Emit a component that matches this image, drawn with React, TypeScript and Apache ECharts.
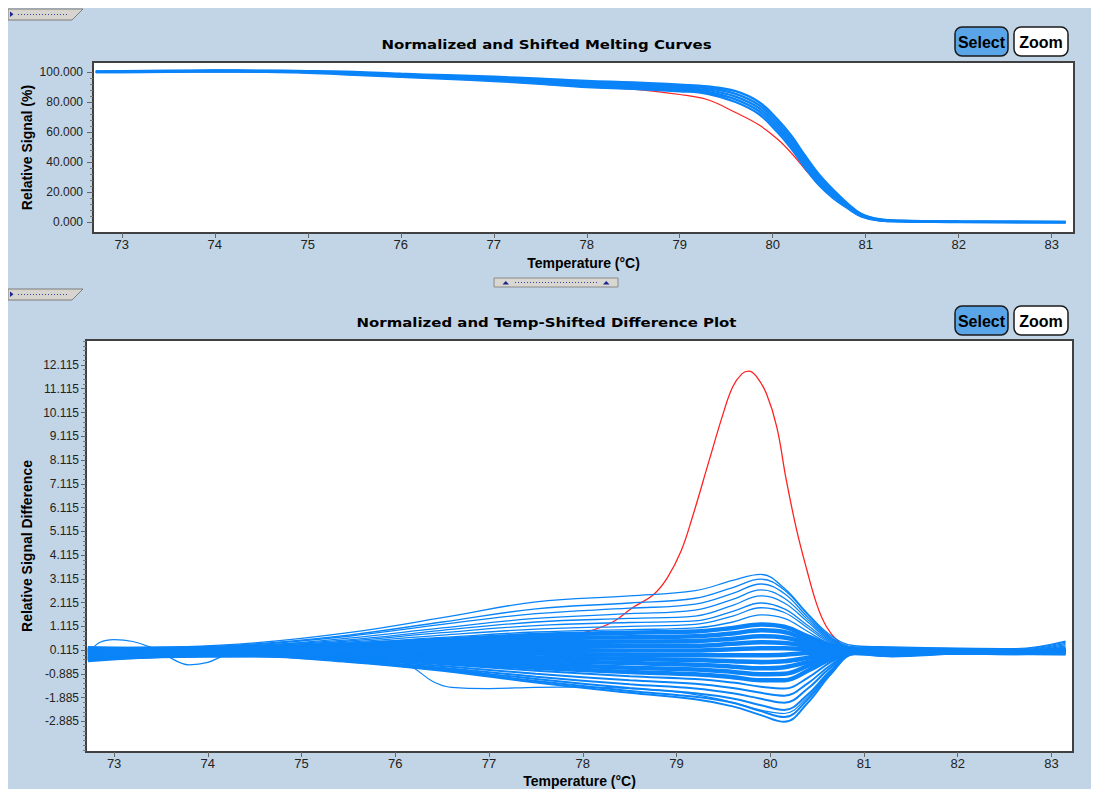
import React, { useEffect, useRef } from "react";
import * as echarts from "echarts";

// ---------- axis ticks ----------
const X_TICKS = [73, 74, 75, 76, 77, 78, 79, 80, 81, 82, 83];
const TOP_Y_TICKS = [0, 20, 40, 60, 80, 100];
const DIFF_Y_TICKS = [-2.885, -1.885, -0.885, 0.115, 1.115, 2.115, 3.115, 4.115, 5.115, 6.115, 7.115, 8.115, 9.115, 10.115, 11.115, 12.115];

// ---------- top chart: normalized melting curves ----------
const TOP_T = [72.72, 73, 73.5, 74, 74.5, 75, 75.5, 76, 76.5, 77, 77.5, 78, 78.5, 79, 79.3, 79.6, 79.85, 80.05, 80.2, 80.35, 80.5, 80.65, 80.8, 80.95, 81.15, 81.4, 82, 82.5, 83.15];
const MELT_1 = [100.3, 100.5, 100.8, 101.0, 100.9, 100.6, 100.0, 98.8, 97.8, 96.8, 95.5, 94.0, 93.0, 91.5, 90.3, 87.2, 80.0, 68.5, 57.5, 44.0, 31.5, 21.5, 12.5, 5.5, 1.8, 0.8, 0.3, 0.2, 0.1];
const MELT_2 = [100.2, 100.35, 100.6, 100.8, 100.7, 100.3, 99.55, 98.3, 97.2, 96.1, 94.7, 93.0, 91.95, 90.4, 89.1, 85.4, 78.0, 66.4, 55.4, 42.0, 29.8, 20.1, 11.8, 5.1, 1.6, 0.7, 0.22, 0.12, 0.02];
const MELT_3 = [100.1, 100.2, 100.45, 100.65, 100.5, 100.05, 99.1, 97.8, 96.65, 95.4, 93.85, 92.0, 90.9, 89.35, 87.9, 83.6, 76.0, 64.25, 53.25, 40.0, 28.0, 18.8, 11.0, 4.65, 1.4, 0.6, 0.15, 0.05, -0.05];
const MELT_4 = [100.0, 100.05, 100.3, 100.5, 100.3, 99.8, 98.65, 97.3, 96.1, 94.7, 93.0, 91.0, 89.85, 88.3, 86.7, 81.8, 74.0, 62.1, 51.1, 38.0, 26.2, 17.4, 10.2, 4.2, 1.2, 0.5, 0.08, -0.02, -0.12];
const MELT_5 = [99.9, 99.9, 100.1, 100.3, 100.1, 99.5, 98.2, 96.8, 95.5, 94.0, 92.2, 90.0, 88.8, 87.2, 85.5, 80.0, 72.0, 60.0, 49.0, 36.0, 24.5, 16.0, 9.5, 3.8, 1.0, 0.4, 0.0, -0.1, -0.2];
const MELT_RED = [99.9, 99.9, 100.1, 100.3, 100.1, 99.5, 98.2, 96.8, 95.5, 94.0, 92.2, 90.0, 88.6, 85.0, 81.5, 73.0, 64.8, 55.3, 46.0, 35.0, 24.5, 16.0, 9.5, 3.8, 1.0, 0.4, 0.0, -0.1, -0.2];
const MELT_BLUE = [MELT_1, MELT_2, MELT_3, MELT_4, MELT_5];

// ---------- bottom chart: difference curves ----------
const DIFF_T = [72.72, 73.5, 74.5, 75.5, 76.5, 77.5, 78.5, 79.2, 79.6, 79.9, 80.15, 80.4, 80.65, 80.9, 81.3, 82, 82.6, 83.15];
const U1 = [0.15, 0.22, 0.42, 0.85, 1.48, 2.15, 2.4, 2.62, 3.05, 3.3, 2.72, 1.65, 0.72, 0.3, 0.25, 0.2, 0.18, 0.5];
const U2 = [0.12, 0.2, 0.38, 0.75, 1.3, 1.85, 2.1, 2.3, 2.75, 3.1, 2.65, 1.6, 0.65, 0.25, 0.22, 0.18, 0.15, 0.45];
const U3 = [0.2, 0.18, 0.35, 0.7, 1.2, 1.65, 1.88, 2.05, 2.5, 2.9, 2.5, 1.5, 0.6, 0.22, 0.2, 0.16, 0.12, 0.4];
const U4 = [0.1, 0.15, 0.3, 0.62, 1.05, 1.45, 1.65, 1.8, 2.25, 2.65, 2.3, 1.4, 0.55, 0.2, 0.18, 0.14, 0.1, 0.35];
const U5 = [0.18, 0.22, 0.32, 0.55, 0.95, 1.3, 1.45, 1.55, 2.0, 2.4, 2.1, 1.3, 0.5, 0.18, 0.15, 0.12, 0.08, 0.3];
const U6 = [0.05, 0.12, 0.28, 0.5, 0.85, 1.15, 1.28, 1.35, 1.75, 2.1, 1.85, 1.15, 0.45, 0.16, 0.14, 0.1, 0.06, 0.25];
const U7 = [0.2, 0.15, 0.25, 0.45, 0.75, 1.0, 1.12, 1.2, 1.55, 1.9, 1.7, 1.05, 0.4, 0.15, 0.12, 0.08, 0.05, 0.2];
const U8 = [0.08, 0.1, 0.22, 0.4, 0.65, 0.88, 0.98, 1.05, 1.3, 1.6, 1.45, 0.9, 0.35, 0.14, 0.1, 0.06, 0.04, 0.15];
const C1 = [0.15, 0.18, 0.2, 0.35, 0.55, 0.75, 0.85, 0.9, 1.05, 1.2, 1.1, 0.7, 0.3, 0.12, 0.1, 0.05, 0.03, 0.1];
const C2 = [0.0, 0.1, 0.18, 0.3, 0.45, 0.6, 0.66, 0.7, 0.82, 0.95, 0.88, 0.55, 0.25, 0.12, 0.08, 0.05, 0.02, 0.08];
const C3 = [0.2, 0.15, 0.15, 0.25, 0.35, 0.45, 0.48, 0.5, 0.6, 0.7, 0.65, 0.42, 0.2, 0.1, 0.08, 0.04, 0.02, 0.05];
const C4 = [-0.1, 0.05, 0.12, 0.2, 0.25, 0.3, 0.3, 0.3, 0.38, 0.45, 0.42, 0.3, 0.15, 0.1, 0.06, 0.04, 0.01, 0.12];
const C5 = [0.1, 0.1, 0.1, 0.12, 0.15, 0.12, 0.1, 0.1, 0.15, 0.2, 0.2, 0.15, 0.1, 0.08, 0.05, 0.03, 0.0, 0.0];
const C6 = [-0.2, -0.05, 0.05, 0.05, 0.02, -0.03, -0.08, -0.1, -0.1, -0.1, -0.08, 0.0, 0.05, 0.08, 0.05, 0.03, 0.02, 0.15];
const C7 = [0.05, 0.0, 0.02, -0.02, -0.1, -0.18, -0.25, -0.3, -0.35, -0.38, -0.35, -0.2, 0.0, 0.06, 0.04, 0.03, 0.02, 0.05];
const C8 = [-0.25, -0.1, 0.0, -0.08, -0.2, -0.33, -0.43, -0.5, -0.58, -0.65, -0.6, -0.38, -0.08, 0.05, 0.03, 0.02, 0.01, 0.0];
const C9 = [-0.05, -0.05, -0.03, -0.12, -0.3, -0.48, -0.62, -0.7, -0.8, -0.9, -0.88, -0.55, -0.15, 0.04, 0.02, 0.02, 0.0, 0.1];
const C10 = [-0.3, -0.12, -0.05, -0.18, -0.4, -0.62, -0.8, -0.9, -1.02, -1.15, -1.15, -0.75, -0.25, 0.03, 0.0, 0.02, 0.01, 0.0];
const L1 = [-0.15, -0.08, -0.06, -0.22, -0.48, -0.75, -0.98, -1.1, -1.25, -1.42, -1.5, -1.05, -0.38, 0.02, -0.02, 0.01, 0.0, 0.05];
const L2 = [-0.2, -0.1, -0.08, -0.26, -0.55, -0.88, -1.15, -1.3, -1.48, -1.68, -1.8, -1.28, -0.5, 0.0, -0.05, 0.0, 0.01, 0.02];
const L3 = [-0.28, -0.13, -0.1, -0.3, -0.62, -1.0, -1.32, -1.5, -1.7, -1.93, -2.1, -1.5, -0.6, -0.02, -0.08, 0.0, 0.0, 0.0];
const L4 = [-0.1, -0.12, -0.12, -0.33, -0.68, -1.1, -1.48, -1.7, -1.92, -2.2, -2.4, -1.75, -0.72, -0.03, -0.1, -0.01, 0.0, 0.08];
const L5 = [-0.22, -0.15, -0.14, -0.36, -0.72, -1.18, -1.6, -1.85, -2.1, -2.45, -2.7, -1.95, -0.8, -0.05, -0.12, -0.02, 0.01, 0.03];
const L6 = [-0.3, -0.18, -0.15, -0.38, -0.75, -1.25, -1.68, -1.95, -2.25, -2.62, -2.9, -2.1, -0.88, -0.06, -0.15, -0.03, 0.0, 0.0];
const UPPER_CURVES = [U1, U2, U3, U4, U5, U6, U7, U8];
const CORE_CURVES = [C1, C2, C3, C4, C5, C6, C7, C8, C9, C10];
const LOWER_CURVES = [L1, L2, L3, L4, L5, L6];

// outlier curves with their own temperature points
const BUMP_T = [72.75, 72.85, 73.0, 73.2, 73.4, 73.55, 73.8, 74.0, 74.2, 74.5, 75.5, 76.5, 77.5, 78.5, 79.2, 79.6, 79.9, 80.15, 80.4, 80.65, 80.9, 81.3, 82, 82.6, 83.15];
const BUMP_V = [0.1, 0.45, 0.56, 0.48, 0.22, -0.1, -0.5, -0.4, -0.08, 0.05, 0.0, -0.1, -0.2, -0.3, -0.35, -0.4, -0.45, -0.4, -0.25, -0.05, 0.05, 0.05, 0.03, 0.02, 0.1];
const DIP_T = [72.72, 73.5, 74.5, 75.5, 76.0, 76.2, 76.4, 76.6, 77.0, 77.5, 78.0, 78.5, 79.0, 79.4, 79.7, 79.95, 80.15, 80.4, 80.65, 80.9, 81.3, 82, 82.6, 83.15];
const DIP_V = [-0.05, 0.0, 0.05, -0.1, -0.3, -0.65, -1.2, -1.45, -1.5, -1.45, -1.44, -1.5, -1.64, -1.9, -2.2, -2.45, -2.55, -1.85, -0.75, 0.0, -0.1, 0.0, 0.0, 0.05];
const RED_T = [72.72, 73.5, 74.5, 75.5, 76.5, 77.0, 77.25, 77.6, 78.05, 78.32, 78.53, 78.75, 78.9, 79.05, 79.17, 79.35, 79.5, 79.6, 79.7, 79.77, 79.85, 79.96, 80.07, 80.17, 80.28, 80.39, 80.5, 80.6, 80.72, 80.85, 81.0];
const RED_V = [0.05, 0.1, 0.1, 0.05, 0.05, 0.13, 0.2, 0.45, 0.89, 1.3, 1.9, 2.44, 3.15, 4.3, 5.72, 8.12, 10.1, 11.2, 11.75, 11.86, 11.65, 10.9, 9.5, 7.3, 5.2, 3.5, 2.0, 1.1, 0.5, 0.15, 0.1];

const BLUE = "#0a84f8";
const RED = "#ff2222";
const FONT = "'Liberation Sans', Arial, sans-serif";
const PANEL = "#c2d5e6";

function pairs(xs: number[], ys: number[]) {
  return xs.map((x, i) => [x, ys[i]]);
}

function minorTicks(majors: number[], step: number, lo: number, hi: number) {
  const out: number[] = [];
  const start = majors[0];
  for (let v = start - step * 20; v <= hi; v += step) {
    const r = Math.round(v * 1000) / 1000;
    if (r < lo || r > hi) continue;
    const isMajor = majors.some((m) => Math.abs(m - r) < 1e-6);
    if (!isMajor) out.push(r);
  }
  return out;
}

function button(x: number, y: number, w: number, label: string, selected: boolean) {
  return {
    type: "group",
    x,
    y,
    children: [
      {
        type: "rect",
        shape: { x: 0, y: 0, width: w, height: 29, r: 7 },
        style: { fill: selected ? "#5aa5e8" : "#ffffff", stroke: "#1a1a1a", lineWidth: 1.5 },
      },
      {
        type: "text",
        x: w / 2,
        y: 15,
        style: { text: label, font: `bold 16px ${FONT}`, fill: "#000", align: "center", verticalAlign: "middle" },
      },
    ],
  };
}

function tab(y: number) {
  return {
    type: "group",
    x: 0,
    y,
    children: [
      { type: "polygon", shape: { points: [[0, 1], [75, 1], [64, 12], [0, 12]] }, style: { fill: "#d8d5cf", stroke: "#7d7d7d", lineWidth: 1 } },
      { type: "polygon", shape: { points: [[2, 3.5], [2, 9], [5.5, 6.2]] }, style: { fill: "#1a2590" } },
      { type: "line", shape: { x1: 10, y1: 6.5, x2: 61, y2: 6.5 }, style: { stroke: "#3a3aa8", lineWidth: 1, lineDash: [1, 2] } },
    ],
  };
}

export default function App() {
  const ref = useRef<HTMLDivElement>(null);
  useEffect(() => {
    document.body.style.overflow = "hidden";
    const chart = echarts.init(ref.current!, null, { renderer: "svg" });
    const topMin = -7.33, topMax = 106.67;
    const botMin = -4.17, botMax = 13.166;
    const TOP_MINOR = minorTicks(TOP_Y_TICKS, 4, 0, 100);
    const DIFF_MINOR = minorTicks(DIFF_Y_TICKS, 0.2, botMin + 0.05, botMax - 0.05);

    const xAxisBase = (grid: number, min: number, max: number) => ({
      type: "value",
      gridIndex: grid,
      position: "bottom",
      min,
      max,
      axisLine: { show: false, onZero: false },
      splitLine: { show: false },
      axisTick: { show: true, inside: false, customValues: X_TICKS, length: 5, lineStyle: { color: "#666", width: 1 } },
      axisLabel: { customValues: X_TICKS, fontFamily: FONT, fontSize: 13, color: "#222", margin: 5 },
    });
    const yMinor = (grid: number, min: number, max: number, vals: number[]) => ({
      type: "value",
      gridIndex: grid,
      position: "left",
      min,
      max,
      axisLine: { show: false, onZero: false },
      splitLine: { show: false },
      axisLabel: { show: false },
      axisTick: { show: true, inside: false, customValues: vals, length: 3, lineStyle: { color: "#777", width: 1 } },
    });

    const lineSeries = (xi: number, yi: number, data: number[][], color: string, width: number) => ({
      type: "line",
      xAxisIndex: xi,
      yAxisIndex: yi,
      data,
      showSymbol: false,
      symbol: "none",
      smooth: 0.4,
      silent: true,
      lineStyle: { color, width },
    });

    const series: any[] = [];
    series.push(lineSeries(0, 0, pairs(TOP_T, MELT_RED), RED, 1.2));
    MELT_BLUE.forEach((c) => series.push(lineSeries(0, 0, pairs(TOP_T, c), BLUE, 2.4)));
    series.push(lineSeries(1, 2, pairs(RED_T, RED_V), RED, 1.3));
    CORE_CURVES.forEach((c) => series.push(lineSeries(1, 2, pairs(DIFF_T, c), BLUE, 4.5)));
    UPPER_CURVES.forEach((c) => series.push(lineSeries(1, 2, pairs(DIFF_T, c), BLUE, 1.3)));
    LOWER_CURVES.forEach((c) => series.push(lineSeries(1, 2, pairs(DIFF_T, c), BLUE, 2)));
    series.push(lineSeries(1, 2, pairs(BUMP_T, BUMP_V), BLUE, 1.2));
    series.push(lineSeries(1, 2, pairs(DIP_T, DIP_V), BLUE, 1.2));

    chart.setOption({
      animation: false,
      backgroundColor: PANEL,
      grid: [
        { left: 85, top: 54, width: 981, height: 171, show: true, backgroundColor: "#ffffff", borderColor: "#404040", borderWidth: 2 },
        { left: 78, top: 332, width: 987, height: 412, show: true, backgroundColor: "#ffffff", borderColor: "#404040", borderWidth: 2 },
      ],
      xAxis: [xAxisBase(0, 72.69, 83.24), xAxisBase(1, 72.7, 83.23)],
      yAxis: [
        {
          type: "value",
          gridIndex: 0,
          position: "left",
          min: topMin,
          max: topMax,
          axisLine: { show: false, onZero: false },
          splitLine: { show: false },
          axisTick: { show: true, inside: false, customValues: TOP_Y_TICKS, length: 6, lineStyle: { color: "#666" } },
          axisLabel: { customValues: TOP_Y_TICKS, formatter: (v: number) => v.toFixed(3), fontFamily: FONT, fontSize: 12, color: "#222", margin: 10 },
        },
        yMinor(0, topMin, topMax, TOP_MINOR),
        {
          type: "value",
          gridIndex: 1,
          position: "left",
          min: botMin,
          max: botMax,
          axisLine: { show: false, onZero: false },
          splitLine: { show: false },
          axisTick: { show: true, inside: false, customValues: DIFF_Y_TICKS, length: 5, lineStyle: { color: "#666" } },
          axisLabel: { customValues: DIFF_Y_TICKS, formatter: (v: number) => v.toFixed(3), fontFamily: FONT, fontSize: 12, color: "#222", margin: 7 },
        },
        yMinor(1, botMin, botMax, DIFF_MINOR),
      ],
      series,
      graphic: [
        tab(0),
        tab(280),
        {
          type: "group",
          x: 486,
          y: 270,
          children: [
            { type: "rect", shape: { x: 0, y: 0, width: 124, height: 9 }, style: { fill: "#d9d7d2", stroke: "#8a8a8a", lineWidth: 1 } },
            { type: "polygon", shape: { points: [[8.5, 6.5], [15, 6.5], [11.75, 3]] }, style: { fill: "#1a2590" } },
            { type: "polygon", shape: { points: [[109, 6.5], [115.5, 6.5], [112.25, 3]] }, style: { fill: "#1a2590" } },
            { type: "line", shape: { x1: 21, y1: 4.5, x2: 104, y2: 4.5 }, style: { stroke: "#3a3aa8", lineWidth: 1, lineDash: [1, 2] } },
          ],
        },
        {
          type: "text",
          x: 538.5,
          y: 36,
          scaleX: 1.15,
          style: { text: "Normalized and Shifted Melting Curves", font: "bold 13px 'DejaVu Sans', sans-serif", fill: "#000", align: "center", verticalAlign: "middle" },
        },
        {
          type: "text",
          x: 538.5,
          y: 314,
          scaleX: 1.15,
          style: { text: "Normalized and Temp-Shifted Difference Plot", font: "bold 13px 'DejaVu Sans', sans-serif", fill: "#000", align: "center", verticalAlign: "middle" },
        },
        {
          type: "text",
          x: 19,
          y: 139.5,
          rotation: Math.PI / 2,
          style: { text: "Relative Signal (%)", font: `bold 14px ${FONT}`, fill: "#000", align: "center", verticalAlign: "middle" },
        },
        {
          type: "text",
          x: 19,
          y: 538,
          rotation: Math.PI / 2,
          style: { text: "Relative Signal Difference", font: `bold 14px ${FONT}`, fill: "#000", align: "center", verticalAlign: "middle" },
        },
        {
          type: "text",
          x: 575.5,
          y: 254.5,
          style: { text: "Temperature (°C)", font: `bold 14px ${FONT}`, fill: "#000", align: "center", verticalAlign: "middle" },
        },
        {
          type: "text",
          x: 571.5,
          y: 773,
          style: { text: "Temperature (°C)", font: `bold 14px ${FONT}`, fill: "#000", align: "center", verticalAlign: "middle" },
        },
        button(947, 19, 53, "Select", true),
        button(1006, 19, 54, "Zoom", false),
        button(947, 298, 53, "Select", true),
        button(1006, 298, 54, "Zoom", false),
      ],
    });
    return () => chart.dispose();
  }, []);
  return <div ref={ref} style={{ width: 1091, height: 781 }} />;
}
